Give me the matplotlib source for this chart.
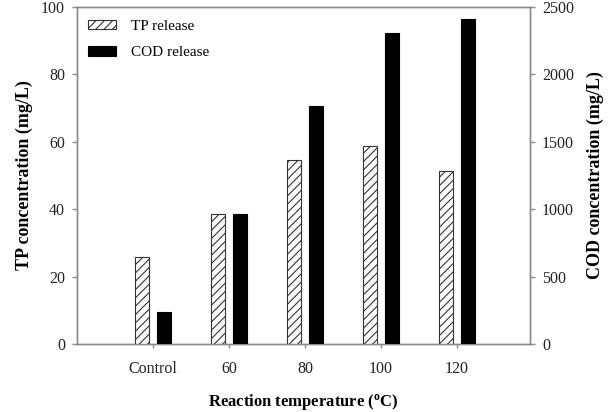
import matplotlib
matplotlib.use("Agg")
import matplotlib.pyplot as plt
import numpy as np

categories = ["Control", "60", "80", "100", "120"]
tp_release = [25.8, 38.5, 54.5, 58.7, 51.4]
cod_release = [238, 961, 1765, 2310, 2410]
tp_ticks = [0, 20, 40, 60, 80, 100]
cod_ticks = [0, 500, 1000, 1500, 2000, 2500]

plt.rcParams['font.family'] = ['Liberation Serif', 'DejaVu Serif']
plt.rcParams['hatch.linewidth'] = 0.8

fig = plt.figure(figsize=(6.10, 4.12), dpi=100)
ax = fig.add_axes([0.126, 0.165, 0.743, 0.818])
ax2 = ax.twinx()

x = np.arange(1, len(categories) + 1)
w = 0.18
off = 0.147
b1 = ax.bar(x - off, tp_release, w, facecolor='white', edgecolor='#333333',
            hatch='////', linewidth=0.8, label='TP release', zorder=3)
b2 = ax2.bar(x + off, cod_release, w, facecolor='black', edgecolor='black',
             linewidth=0.8, label='COD release', zorder=3)

ax.set_xlim(0, 5.96)
ax.set_ylim(0, 100)
ax2.set_ylim(0, 2500)
ax.set_xticks(x)
ax.set_xticklabels(categories)
ax.set_yticks(tp_ticks)
ax2.set_yticks(cod_ticks)

spine_c = '#8a8a8a'
for a in (ax, ax2):
    for s in a.spines.values():
        s.set_color(spine_c)
        s.set_linewidth(1.0)
    a.tick_params(colors=spine_c, labelcolor='#222222', labelsize=11.5,
                  length=3.5, width=1.0, direction='out', pad=5)
ax.tick_params(axis='x', length=3, pad=9)

ax.set_xlabel("Reaction temperature ($\\mathregular{^o}$C)", fontsize=12,
              fontweight='bold', labelpad=11)
ax.set_ylabel("TP concentration (mg/L)", fontsize=13, fontweight='bold', labelpad=6)
ax2.set_ylabel("COD concentration (mg/L)", fontsize=13, fontweight='bold', labelpad=9.5)

ax.legend([b1, b2], ['TP release', 'COD release'], loc='upper left', frameon=False,
          fontsize=11, handlelength=1.8, handleheight=0.6, handletextpad=1.0,
          bbox_to_anchor=(-0.012, 1.012), labelspacing=0.85, borderpad=0.6)

fig.savefig("out.png", dpi=100)
